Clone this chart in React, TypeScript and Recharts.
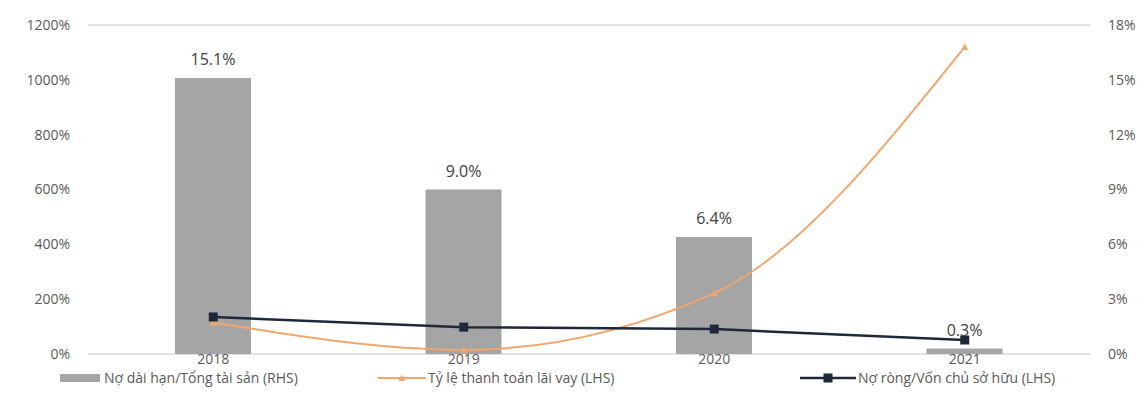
import React from 'react';
import {
    ComposedChart,
    Bar,
    Line,
    XAxis,
    YAxis,
    CartesianGrid,
    Legend,
    LabelList,
} from 'recharts';

const years = ['2018', '2019', '2020', '2021'];
const longDebtToAssets = [15.1, 9.0, 6.4, 0.3]; // RHS, %
const interestCoverage = [115, 15, 222, 1120]; // LHS, %
const netDebtToEquity = [135, 98, 91, 51]; // LHS, %

const leftTicks = [0, 200, 400, 600, 800, 1000, 1200];
const rightTicks = [0, 3, 6, 9, 12, 15, 18];

const data = years.map((year, i) => ({
    year,
    longDebt: longDebtToAssets[i],
    coverage: interestCoverage[i],
    netDebt: netDebtToEquity[i],
}));

const FONT = "'Open Sans', sans-serif";
const GRAY = '#a5a5a5';
const ORANGE = '#f3a66c';
const DARK = '#1f2838';
const TEXT = '#595959';

function Triangle(props: any) {
    const { cx, cy } = props;
    if (cx == null || cy == null) return null;
    return <path d={`M${cx - 3.5},${cy + 3} L${cx + 3.5},${cy + 3} L${cx},${cy - 3.5} Z`} fill={ORANGE} />;
}

function Square(props: any) {
    const { cx, cy } = props;
    if (cx == null || cy == null) return null;
    return <rect x={cx - 4.5} y={cy - 4.5} width={9} height={9} fill={DARK} />;
}

function LegendBox() {
    const item: React.CSSProperties = {
        position: 'absolute',
        top: 0,
        display: 'flex',
        alignItems: 'center',
        fontFamily: FONT,
        fontSize: 14,
        lineHeight: '16px',
        color: TEXT,
        whiteSpace: 'nowrap',
    };
    return (
        <div style={{ position: 'relative', height: 20, width: 1147, marginTop: -4 }}>
            <div style={{ ...item, left: 60 }}>
                <span style={{ display: 'inline-block', width: 40, height: 8, background: GRAY, marginRight: 4 }} />
                Nợ dài hạn/Tổng tài sản (RHS)
            </div>
            <div style={{ ...item, left: 378 }}>
                <svg width={48} height={10} style={{ marginRight: 2 }}>
                    <line x1={0} y1={5} x2={48} y2={5} stroke={ORANGE} strokeWidth={2} />
                    <path d="M20.5,8 L27.5,8 L24,1.5 Z" fill={ORANGE} />
                </svg>
                Tỷ lệ thanh toán lãi vay (LHS)
            </div>
            <div style={{ ...item, left: 800 }}>
                <svg width={56} height={10} style={{ marginRight: 2 }}>
                    <line x1={0} y1={5} x2={56} y2={5} stroke={DARK} strokeWidth={2.5} />
                    <rect x={23.5} y={0.5} width={9} height={9} fill={DARK} />
                </svg>
                Nợ ròng/Vốn chủ sở hữu (LHS)
            </div>
        </div>
    );
}

export default function App() {
    return (
        <div style={{ position: 'absolute', left: 0, top: 0, background: '#fff' }}>
            <ComposedChart
                width={1147}
                height={414}
                data={data}
                margin={{ top: 25, right: 0, left: 0, bottom: 0 }}
            >
                <CartesianGrid vertical={false} stroke="#d9d9d9" strokeWidth={1.5} />
                <XAxis
                    dataKey="year"
                    axisLine={false}
                    tickLine={false}
                    tickSize={0}
                    tickMargin={0}
                    height={20}
                    tick={{ fill: TEXT, fontSize: 14, fontFamily: FONT }}
                />
                <YAxis
                    yAxisId="left"
                    domain={[0, 1200]}
                    ticks={leftTicks}
                    width={88}
                    axisLine={false}
                    tickLine={false}
                    tickMargin={12}
                    tickFormatter={(v: number) => `${v}%`}
                    tick={{ fill: TEXT, fontSize: 14, fontFamily: FONT }}
                />
                <YAxis
                    yAxisId="right"
                    orientation="right"
                    domain={[0, 18]}
                    ticks={rightTicks}
                    width={57}
                    axisLine={false}
                    tickLine={false}
                    tickMargin={12}
                    tickFormatter={(v: number) => `${v}%`}
                    tick={{ fill: TEXT, fontSize: 14, fontFamily: FONT }}
                />
                <Legend verticalAlign="bottom" height={40} content={() => <LegendBox />} />
                <Bar
                    yAxisId="right"
                    dataKey="longDebt"
                    fill={GRAY}
                    barSize={76}
                    isAnimationActive={false}
                >
                    <LabelList
                        dataKey="longDebt"
                        position="top"
                        offset={13}
                        formatter={(v: any) => `${Number(v).toFixed(1)}%`}
                        style={{ fill: '#404040', fontSize: 16, fontFamily: FONT }}
                    />
                </Bar>
                <Line
                    yAxisId="left"
                    type="monotone"
                    dataKey="coverage"
                    stroke={ORANGE}
                    strokeWidth={2}
                    dot={<Triangle />}
                    isAnimationActive={false}
                />
                <Line
                    yAxisId="left"
                    type="linear"
                    dataKey="netDebt"
                    stroke={DARK}
                    strokeWidth={2.5}
                    dot={<Square />}
                    isAnimationActive={false}
                />
            </ComposedChart>
        </div>
    );
}
